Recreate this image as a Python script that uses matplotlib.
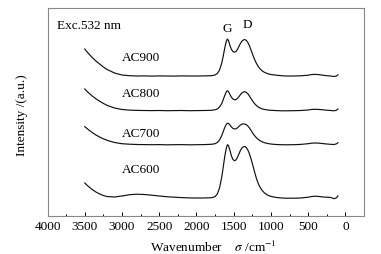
# Raman spectra of AC600-AC900
import numpy as np
from matplotlib import pyplot as plt

wavenumber = [3500, 3450, 3400, 3350, 3300, 3250, 3200, 3100, 3000, 2900,
              2800, 2700, 2600, 2500, 2400, 2300, 2200, 2100, 2000, 1900,
              1800, 1750, 1720, 1690, 1660, 1640, 1620, 1600, 1585, 1570,
              1550, 1530, 1510, 1490, 1470, 1450, 1430, 1410, 1390, 1370,
              1350, 1330, 1310, 1290, 1270, 1250, 1230, 1210, 1190, 1170,
              1150, 1120, 1090, 1060, 1030, 1000, 950, 900, 850, 800,
              700, 600, 500, 450, 400, 350, 300, 250, 200, 150,
              120, 100]

ac900 = [163, 158.5, 154.5, 151, 148, 145, 142.5, 139, 137, 136.3,
         136, 136.1, 135.9, 136.1, 136, 135.9, 136.1, 136, 136, 136.1,
         136.3, 137, 138.5, 142, 149, 156, 164, 170.5, 173, 171.5,
         166.5, 162.5, 160.5, 159.8, 160.5, 162.5, 165.5, 168.5, 170.8, 172,
         172.5, 171.5, 169.5, 166.5, 162.5, 158.5, 154.5, 151, 148, 145.5,
         143.5, 141.3, 139.8, 138.8, 138, 137.5, 137, 136.6, 136.3, 136,
         136, 136.2, 136.8, 137.5, 137.6, 137.3, 136.8, 136.3, 136, 135.5,
         136, 137.2]

ac800 = [123, 119.3, 116, 113.2, 110.8, 108.6, 106.6, 104, 102.5, 101.9,
         101.6, 101.5, 101.4, 101.5, 101.3, 101.4, 101.5, 101.3, 101.4, 101.5,
         101.7, 102.2, 103, 105, 108.5, 112.5, 116.5, 120, 121.3, 120.5,
         117.5, 114.8, 113, 112.2, 112.4, 113.5, 115.3, 117.3, 119, 120,
         120.3, 119.6, 118.2, 116.2, 113.8, 111.5, 109.4, 107.6, 106.2, 105,
         104.1, 103.2, 102.6, 102.2, 101.9, 101.7, 101.5, 101.3, 101.2, 101.2,
         101.3, 101.5, 102, 102.6, 102.7, 102.5, 102.2, 101.8, 101.5, 101.2,
         101.8, 103]

ac700 = [85.3, 82.3, 79.5, 77, 75, 73.2, 71.7, 69.5, 68.3, 67.8,
         67.5, 67.4, 67.3, 67.4, 67.2, 67.3, 67.4, 67.2, 67.3, 67.4,
         67.7, 68.3, 69.5, 72, 76.5, 80.5, 84.5, 87.5, 88.8, 88.6,
         87, 85, 83.6, 83, 83.2, 84.2, 85.6, 87, 87.8, 88.1,
         88, 87.3, 86, 84.2, 82, 79.6, 77.4, 75.5, 73.9, 72.6,
         71.5, 70.3, 69.4, 68.8, 68.3, 68, 67.6, 67.4, 67.3, 67.2,
         67.3, 67.6, 68.3, 68.9, 69, 68.8, 68.4, 68, 67.7, 67.5,
         68.2, 69.3]

ac600 = [29, 25.5, 22.5, 20, 18, 16.5, 15.5, 15, 16, 17.3,
         17.8, 17.5, 16.8, 16, 15.3, 14.8, 14.4, 14.1, 14, 14,
         14.3, 15.3, 18, 24, 35, 45, 55.5, 63.5, 67.3, 66.5,
         61.5, 56, 52.5, 51.3, 52, 54.5, 58, 61.5, 64, 65.2,
         65.5, 64.5, 62, 58.5, 54, 48.5, 43, 37.5, 32.5, 28.5,
         25.3, 21.8, 19.3, 17.6, 16.4, 15.6, 14.8, 14.3, 14, 13.8,
         13.8, 14, 14.8, 15.5, 15.8, 15.5, 15, 14.8, 14.6, 13.3,
         14.2, 16]

series = [ac900, ac800, ac700, ac600]
names = ["AC900", "AC800", "AC700", "AC600"]
label_y = [154.7, 119, 78.7, 43]

plt.rcParams['font.family'] = ['Liberation Serif', 'DejaVu Serif']
plt.rcParams['mathtext.fontset'] = 'stix'
fs = 9.5

fig = plt.figure(figsize=(3.81, 2.55), dpi=100)
ax = fig.add_axes([0.1247, 0.149, 0.8307, 0.8157])

for ys in series:
    ax.plot(wavenumber, ys, color='#111111', lw=0.85)

for name, yl in zip(names, label_y):
    ax.text(3000, yl, name, fontsize=fs, ha='left', va='center')

ax.text(1586, 183.7, "G", fontsize=fs, ha='center', va='center')
ax.text(1317, 188, "D", fontsize=fs, ha='center', va='center')
ax.text(0.03, 0.918, "Exc.532 nm", fontsize=fs, ha='left', va='center',
        transform=ax.transAxes)

ax.set_xlim(4000, -250)
ax.set_ylim(-4, 204)
ax.set_xticks(np.arange(0, 4001, 500))
ax.set_xticks(np.arange(250, 4000, 500), minor=True)
ax.set_yticks([])
ax.tick_params(axis='x', which='major', direction='in', length=3, width=0.7,
               labelsize=fs, pad=3)
ax.tick_params(axis='x', which='minor', direction='in', length=1.5, width=0.7)
for sp in ax.spines.values():
    sp.set_color('#888888')
    sp.set_linewidth(0.8)

ax.set_xlabel(r"Wavenumber    $\sigma$ /cm$^{-1}$", fontsize=fs, va='center')
ax.xaxis.set_label_coords(0.523, -0.148)
ax.set_ylabel("Intensity /(a.u.)", fontsize=fs)
ax.yaxis.set_label_coords(-0.062, 0.49)

plt.savefig("out.png", dpi=100)
plt.close("all")
